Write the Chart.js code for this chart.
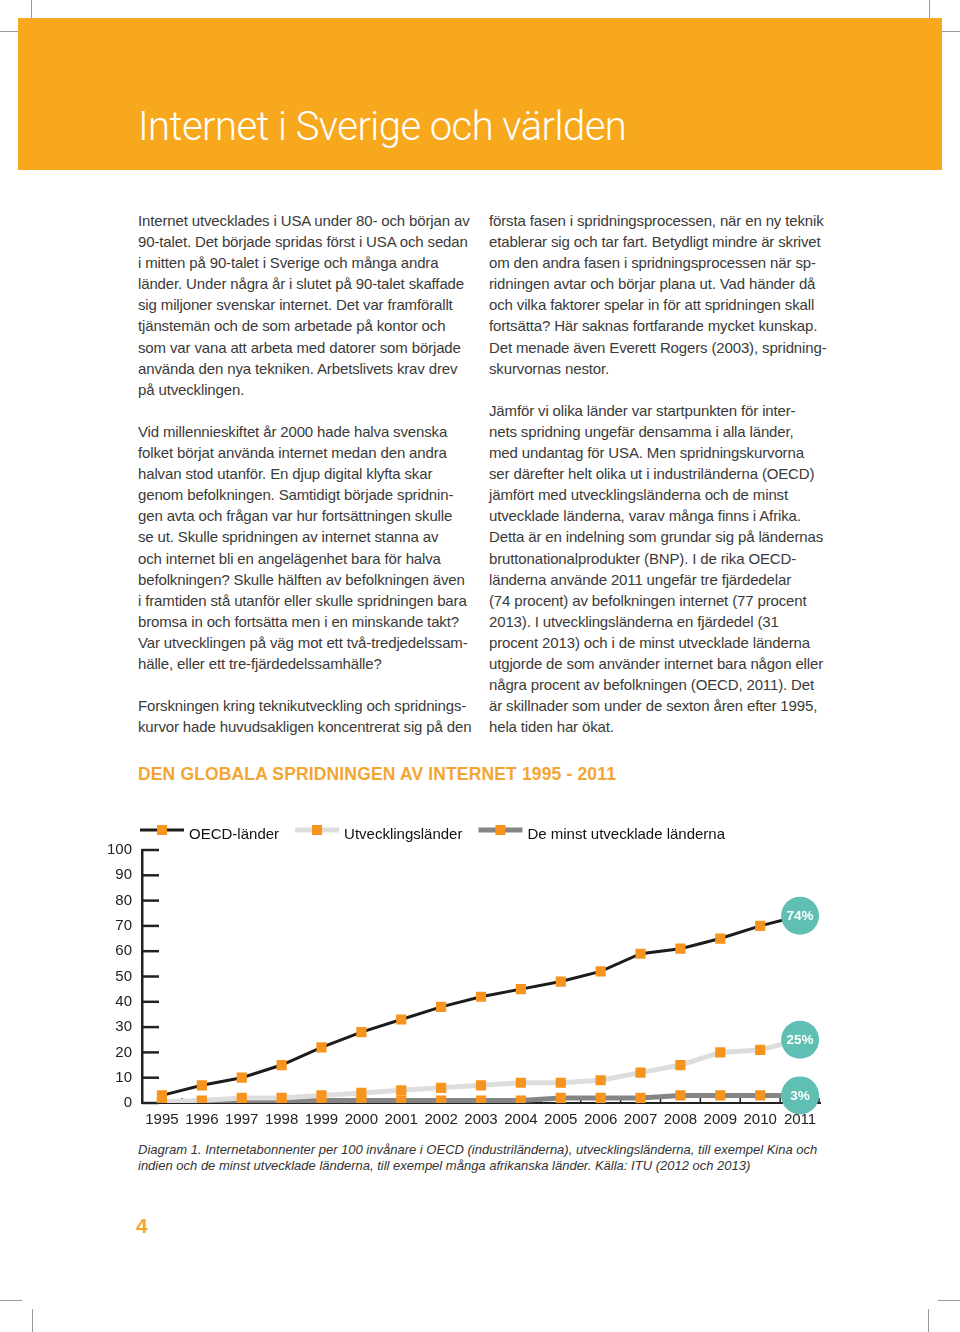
<!DOCTYPE html>
<html lang="sv">
<head>
<meta charset="utf-8">
<title>Internet i Sverige och världen</title>
<script src="https://cdn.jsdelivr.net/npm/chart.js@4.4.1/dist/chart.umd.min.js"></script>
<style>
  html, body { margin: 0; padding: 0; background: #fff; }
  body { width: 960px; height: 1332px; position: relative; overflow: hidden; font-family: "Liberation Sans", Helvetica, Arial, sans-serif; color: #3a3a3a; }
  .mark { position: absolute; background: #9a9a9a; }
  .banner { position: absolute; left: 18px; top: 18px; width: 924px; height: 152px; background: #f7a81d; }
  .banner h1 { position: absolute; left: 120px; top: 85px; margin: 0; font-family: Roboto, "Liberation Sans", sans-serif; font-weight: 300; font-size: 40px; line-height: 48px; color: #fff; white-space: nowrap; letter-spacing: -0.55px; }
  .col { position: absolute; top: 210px; font-size: 15px; line-height: 21.1px; white-space: nowrap; letter-spacing: -0.14px; }
  .col p { margin: 0 0 21.1px 0; }
  .heading { position: absolute; left: 138px; top: 764px; font-size: 17.5px; font-weight: bold; color: #f3a532; white-space: nowrap; letter-spacing: 0.15px; }
  .chartbox { position: absolute; left: 90px; top: 815px; width: 745px; height: 322px; }
  .caption { position: absolute; left: 138px; top: 1141.5px; font-size: 13px; line-height: 16.5px; font-style: italic; color: #333; white-space: nowrap; }
  .pageno { position: absolute; left: 136px; top: 1214px; font-size: 21px; font-weight: bold; color: #f3a532; }
</style>
</head>
<body>
<div class="mark" style="left:31px;top:0;width:1px;height:18px"></div>
<div class="mark" style="left:0;top:31px;width:18px;height:1px"></div>
<div class="mark" style="left:929px;top:0;width:1px;height:18px"></div>
<div class="mark" style="left:942px;top:31px;width:18px;height:1px"></div>
<div class="mark" style="left:32px;top:1309px;width:1px;height:23px"></div>
<div class="mark" style="left:0;top:1300px;width:22px;height:1px"></div>
<div class="mark" style="left:928px;top:1309px;width:1px;height:23px"></div>
<div class="mark" style="left:938px;top:1300px;width:22px;height:1px"></div>

<div class="banner"><h1>Internet i Sverige och världen</h1></div>

<div class="col" style="left:138px">
<p>Internet utvecklades i USA under 80- och början av<br>
90-talet. Det började spridas först i USA och sedan<br>
i mitten på 90-talet i Sverige och många andra<br>
länder. Under några år i slutet på 90-talet skaffade<br>
sig miljoner svenskar internet. Det var framförallt<br>
tjänstemän och de som arbetade på kontor och<br>
som var vana att arbeta med datorer som började<br>
använda den nya tekniken. Arbetslivets krav drev<br>
på utvecklingen.</p>
<p>Vid millennieskiftet år 2000 hade halva svenska<br>
folket börjat använda internet medan den andra<br>
halvan stod utanför. En djup digital klyfta skar<br>
genom befolkningen. Samtidigt började spridnin-<br>
gen avta och frågan var hur fortsättningen skulle<br>
se ut. Skulle spridningen av internet stanna av<br>
och internet bli en angelägenhet bara för halva<br>
befolkningen? Skulle hälften av befolkningen även<br>
i framtiden stå utanför eller skulle spridningen bara<br>
bromsa in och fortsätta men i en minskande takt?<br>
Var utvecklingen på väg mot ett två-tredjedelssam-<br>
hälle, eller ett tre-fjärdedelssamhälle?</p>
<p>Forskningen kring teknikutveckling och spridnings-<br>
kurvor hade huvudsakligen koncentrerat sig på den</p>
</div>

<div class="col" style="left:489px">
<p>första fasen i spridningsprocessen, när en ny teknik<br>
etablerar sig och tar fart. Betydligt mindre är skrivet<br>
om den andra fasen i spridningsprocessen när sp-<br>
ridningen avtar och börjar plana ut. Vad händer då<br>
och vilka faktorer spelar in för att spridningen skall<br>
fortsätta? Här saknas fortfarande mycket kunskap.<br>
Det menade även Everett Rogers (2003), spridning-<br>
skurvornas nestor.</p>
<p>Jämför vi olika länder var startpunkten för inter-<br>
nets spridning ungefär densamma i alla länder,<br>
med undantag för USA. Men spridningskurvorna<br>
ser därefter helt olika ut i industriländerna (OECD)<br>
jämfört med utvecklingsländerna och de minst<br>
utvecklade länderna, varav många finns i Afrika.<br>
Detta är en indelning som grundar sig på ländernas<br>
bruttonationalprodukter (BNP). I de rika OECD-<br>
länderna använde 2011 ungefär tre fjärdedelar<br>
(74 procent) av befolkningen internet (77 procent<br>
2013). I utvecklingsländerna en fjärdedel (31<br>
procent 2013) och i de minst utvecklade länderna<br>
utgjorde de som använder internet bara någon eller<br>
några procent av befolkningen (OECD, 2011). Det<br>
är skillnader som under de sexton åren efter 1995,<br>
hela tiden har ökat.</p>
</div>

<div class="heading">DEN GLOBALA SPRIDNINGEN AV INTERNET 1995 - 2011</div>

<div class="chartbox"><canvas id="chart"></canvas></div>

<div class="caption">Diagram 1. Internetabonnenter per 100 invånare i OECD (industriländerna), utvecklingsländerna, till exempel Kina och<br>
indien och de minst utvecklade länderna, till exempel många afrikanska länder. Källa: ITU (2012 och 2013)</div>

<div class="pageno">4</div>

<script>
// data (subscribers per 100 inhabitants)
const years = ["1995", "1996", "1997", "1998", "1999", "2000", "2001", "2002", "2003",
    "2004", "2005", "2006", "2007", "2008", "2009", "2010", "2011"];
const oecd = [3, 7, 10, 15, 22, 28, 33, 38, 42, 45, 48, 52, 59, 61, 65, 70, 74];
const developing = [0.5, 1, 2, 2, 3, 4, 5, 6, 7, 8, 8, 9, 12, 15, 20, 21, 25];
const leastDeveloped = [0, 0.5, 1, 1, 1, 1, 1, 1, 1, 1, 2, 2, 2, 3, 3, 3, 3];
const seriesNames = ["OECD-länder", "Utvecklingsländer", "De minst utvecklade länderna"];
const endLabels = ["74%", "25%", "3%"];
const yMax = 100;
const yStep = 10;

const orange = "#f7941d";
const teal = "#5fbfb2";
const font = "Liberation Sans";

const pageMarks = {
    id: "pageMarks",
    beforeDatasetsDraw(chart) {
        const { ctx, chartArea, scales } = chart;
        const x = scales.x, y = scales.y;
        ctx.save();
        ctx.strokeStyle = "#222";
        ctx.lineWidth = 2.5;
        y.ticks.forEach((t, i) => {
            const py = y.getPixelForTick(i);
            ctx.beginPath();
            ctx.moveTo(chartArea.left, py);
            ctx.lineTo(chartArea.left + 17, py);
            ctx.stroke();
        });
        ctx.lineWidth = 1.5;
        for (let i = 1; i <= years.length; i++) {
            const px = i < years.length
                ? (x.getPixelForTick(i - 1) + x.getPixelForTick(i)) / 2
                : chartArea.right - 1;
            ctx.beginPath();
            ctx.moveTo(px, chartArea.bottom);
            ctx.lineTo(px, chartArea.bottom - 5);
            ctx.stroke();
        }
        ctx.restore();
    },
    afterDatasetsDraw(chart) {
        const ctx = chart.ctx;
        ctx.save();
        chart.data.datasets.forEach((ds, i) => {
            const meta = chart.getDatasetMeta(i);
            const pt = meta.data[meta.data.length - 1];
            ctx.fillStyle = teal;
            ctx.beginPath();
            ctx.arc(pt.x, pt.y, 19, 0, Math.PI * 2);
            ctx.fill();
            ctx.fillStyle = "#fff";
            ctx.font = "bold 13.5px '" + font + "'";
            ctx.textAlign = "center";
            ctx.textBaseline = "middle";
            ctx.fillText(endLabels[i], pt.x, pt.y + 0.5);
        });
        ctx.restore();
    },
    afterDraw(chart) {
        // legend: line sample with a square marker, then the name
        const { ctx, chartArea } = chart;
        let x0 = chartArea.left - 2;
        const yy = 15;
        ctx.save();
        ctx.font = "15px '" + font + "'";
        chart.data.datasets.forEach((ds) => {
            ctx.strokeStyle = ds.borderColor;
            ctx.lineWidth = ds.borderWidth;
            ctx.beginPath();
            ctx.moveTo(x0, yy);
            ctx.lineTo(x0 + 44, yy);
            ctx.stroke();
            ctx.fillStyle = orange;
            ctx.fillRect(x0 + 22 - 5, yy - 5, 10, 10);
            ctx.fillStyle = "#111";
            ctx.textBaseline = "middle";
            ctx.fillText(ds.label, x0 + 49, yy + 5);
            x0 += 49 + ctx.measureText(ds.label).width + 16;
        });
        ctx.restore();
    }
};

const series = [
    { label: seriesNames[0], data: oecd, borderColor: "#1c1c1c", borderWidth: 3 },
    { label: seriesNames[1], data: developing, borderColor: "#dddddd", borderWidth: 5 },
    { label: seriesNames[2], data: leastDeveloped, borderColor: "#858585", borderWidth: 5 }
].map((s) => Object.assign(s, {
    pointStyle: "rect",
    pointRadius: 7.2,
    pointBorderWidth: 0,
    pointBackgroundColor: orange,
    tension: 0,
    fill: false
}));

new Chart(document.getElementById("chart"), {
    type: "line",
    data: { labels: years, datasets: series },
    options: {
        responsive: true,
        maintainAspectRatio: false,
        animation: false,
        layout: { padding: { top: 35, left: 7, right: 15, bottom: 0 } },
        plugins: { legend: { display: false }, tooltip: { enabled: false } },
        scales: {
            x: {
                offset: true,
                grid: { drawOnChartArea: false, drawTicks: false },
                border: { display: true, color: "#222", width: 2 },
                ticks: { color: "#222", font: { family: font, size: 15 }, padding: 8, maxRotation: 0, autoSkip: false }
            },
            y: {
                min: 0,
                max: yMax,
                grid: { drawOnChartArea: false, drawTicks: false },
                border: { display: true, color: "#222", width: 2.5 },
                ticks: { stepSize: yStep, color: "#222", font: { family: font, size: 15 }, padding: 10 }
            }
        }
    },
    plugins: [pageMarks]
});
</script>
</body>
</html>
